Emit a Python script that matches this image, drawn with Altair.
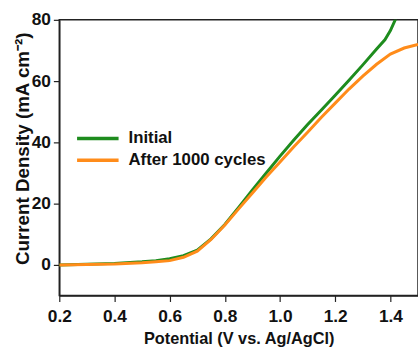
import altair as alt
import pandas as pd

# Data
initial_x = [0.2, 0.3, 0.4, 0.5, 0.55, 0.6, 0.65, 0.7, 0.75, 0.8, 0.85, 0.9, 0.95,
             1.0, 1.05, 1.1, 1.15, 1.2, 1.25, 1.3, 1.35, 1.38, 1.4, 1.42]
initial_y = [0.0, 0.2, 0.5, 1.0, 1.4, 2.0, 3.0, 4.8, 8.5, 13.2, 18.8, 24.5, 30.0,
             35.5, 40.8, 45.8, 50.6, 55.4, 60.3, 65.3, 70.5, 73.5, 76.5, 80.5]

after_x = [0.2, 0.3, 0.4, 0.5, 0.55, 0.6, 0.65, 0.7, 0.75, 0.8, 0.85, 0.9, 0.95,
           1.0, 1.05, 1.1, 1.15, 1.2, 1.25, 1.3, 1.35, 1.4, 1.45, 1.5]
after_y = [0.0, 0.1, 0.3, 0.7, 1.0, 1.4, 2.5, 4.5, 8.3, 13.0, 18.3, 23.5, 28.7,
           33.6, 38.6, 43.3, 48.2, 52.8, 57.4, 61.6, 65.5, 68.8, 70.8, 72.0]

series_names = ["Initial", "After 1000 cycles"]
series_colors = ["#1e8c1e", "#ff8c1a"]

rows = []
for x, y in zip(initial_x, initial_y):
    rows.append({"Potential": x, "Current": y, "Series": series_names[0]})
for x, y in zip(after_x, after_y):
    rows.append({"Potential": x, "Current": y, "Series": series_names[1]})
df = pd.DataFrame(rows)

font = "Liberation Sans"

chart = alt.Chart(df).mark_line(strokeWidth=3, clip=True).encode(
    x=alt.X("Potential:Q",
            scale=alt.Scale(domain=[0.2, 1.5], nice=False, zero=False),
            axis=alt.Axis(title="Potential (V vs. Ag/AgCl)",
                          values=[0.2, 0.4, 0.6, 0.8, 1.0, 1.2, 1.4],
                          format=".1f", titleFontSize=16.5,
                          labelPadding=6, titlePadding=6)),
    y=alt.Y("Current:Q",
            scale=alt.Scale(domain=[-10, 80], nice=False),
            axis=alt.Axis(title="Current Density (mA cm⁻²)",
                          values=[0, 20, 40, 60, 80],
                          titleFontSize=19, titleX=-27, titleY=130,
                          labelPadding=3)),
    color=alt.Color("Series:N",
                    scale=alt.Scale(domain=series_names, range=series_colors),
                    legend=alt.Legend(title=None, orient="none",
                                      legendX=30, legendY=111,
                                      symbolType="M-3,0H3", symbolSize=196,
                                      symbolStrokeWidth=3.5,
                                      labelFont=font, labelFontSize=17,
                                      labelFontWeight="bold", labelColor="#111",
                                      labelOffset=22, rowPadding=5)),
    detail="Series:N",
    order=alt.Order("Series:N", sort="descending"),
).properties(
    width=363, height=279,
    autosize=alt.AutoSizeParams(type="none"),
    padding={"left": 60, "top": 18, "right": 0, "bottom": 50},
).configure_view(
    stroke="#222", strokeWidth=1.5
).configure_axis(
    grid=False, domainColor="#222", domainWidth=1.5, tickColor="#222",
    tickSize=6, tickWidth=1.2, labelFlush=False,
    labelFont=font, labelFontSize=17.5, labelFontWeight="bold", labelColor="#111",
    titleFont=font, titleFontWeight="bold", titleColor="#111",
)

chart.save("out.html", embed_options={"renderer": "svg", "actions": False})
